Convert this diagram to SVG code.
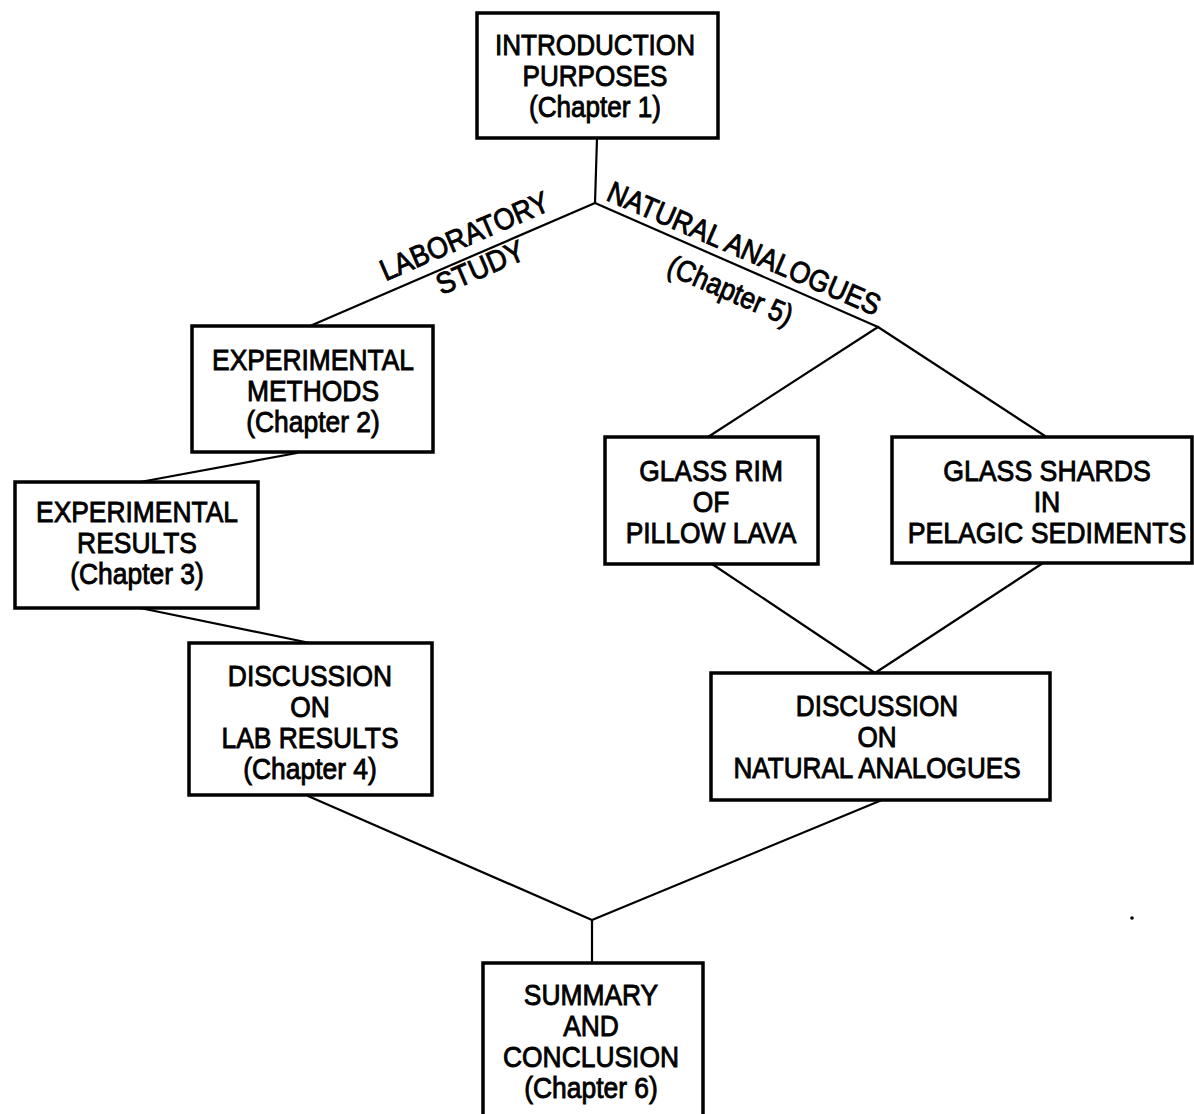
<svg xmlns="http://www.w3.org/2000/svg" width="1194" height="1114" viewBox="0 0 1194 1114">
  <style>
    .box { fill: #ffffff; stroke: #000000; stroke-width: 3.5; }
    .conn { fill: none; stroke: #000000; stroke-width: 2.2; stroke-linecap: round; stroke-linejoin: round; }
    .t { font-family: "Liberation Sans", Arial, Helvetica, sans-serif; font-size: 30px; fill: #000000; text-anchor: middle; stroke: #000000; stroke-width: 0.9; }
  </style>
  <rect width="1194" height="1114" fill="#ffffff"/>

  <g id="connectors">
    <polyline class="conn" points="597,138 595,203"/>
    <polyline class="conn" points="595,203 310,326"/>
    <polyline class="conn" points="595,203 878,327"/>
    <polyline class="conn" points="878,327 708,437"/>
    <polyline class="conn" points="878,327 1045,436"/>
    <polyline class="conn" points="297,453 140,482"/>
    <polyline class="conn" points="140,608 310,643"/>
    <polyline class="conn" points="712,564 875,673"/>
    <polyline class="conn" points="1043,563 875,673"/>
    <polyline class="conn" points="308,796 592,920"/>
    <polyline class="conn" points="882,800 592,920"/>
    <polyline class="conn" points="592,920 592,963"/>
  </g>

  <g id="label-laboratory" transform="rotate(-23.3 595 203)">
    <text class="t" x="462" y="192" textLength="181" lengthAdjust="spacingAndGlyphs">LABORATORY</text>
    <text class="t" x="464" y="227" textLength="93" lengthAdjust="spacingAndGlyphs">STUDY</text>
  </g>
  <g id="label-natural" transform="rotate(23.3 595 203)">
    <text class="t" x="750" y="196" textLength="294" lengthAdjust="spacingAndGlyphs">NATURAL ANALOGUES</text>
    <text class="t" x="754" y="240" textLength="133" lengthAdjust="spacingAndGlyphs">(Chapter 5)</text>
  </g>

  <g id="node-intro">
    <rect class="box" x="477" y="13" width="241" height="125"/>
    <g transform="translate(595 0) scale(0.87 1)">
      <text class="t" x="0" y="55">INTRODUCTION</text>
      <text class="t" x="0" y="86">PURPOSES</text>
      <text class="t" x="0" y="117">(Chapter 1)</text>
    </g>
  </g>

  <g id="node-methods">
    <rect class="box" x="192" y="326" width="241" height="126"/>
    <g transform="translate(313 0) scale(0.88 1)">
      <text class="t" x="0" y="370">EXPERIMENTAL</text>
      <text class="t" x="0" y="401">METHODS</text>
      <text class="t" x="0" y="432">(Chapter 2)</text>
    </g>
  </g>

  <g id="node-results">
    <rect class="box" x="15" y="482" width="243" height="126"/>
    <g transform="translate(137 0) scale(0.88 1)">
      <text class="t" x="0" y="522">EXPERIMENTAL</text>
      <text class="t" x="0" y="553">RESULTS</text>
      <text class="t" x="0" y="584">(Chapter 3)</text>
    </g>
  </g>

  <g id="node-lab-discussion">
    <rect class="box" x="189" y="643" width="243" height="152"/>
    <g transform="translate(310 0) scale(0.88 1)">
      <text class="t" x="0" y="686">DISCUSSION</text>
      <text class="t" x="0" y="717">ON</text>
      <text class="t" x="0" y="748">LAB RESULTS</text>
      <text class="t" x="0" y="779">(Chapter 4)</text>
    </g>
  </g>

  <g id="node-glass-rim">
    <rect class="box" x="605" y="437" width="213" height="127"/>
    <g transform="translate(711 0) scale(0.88 1)">
      <text class="t" x="0" y="481">GLASS RIM</text>
      <text class="t" x="0" y="512">OF</text>
      <text class="t" x="0" y="543">PILLOW LAVA</text>
    </g>
  </g>

  <g id="node-glass-shards">
    <rect class="box" x="892" y="437" width="300" height="126"/>
    <g transform="translate(1047 0) scale(0.89 1)">
      <text class="t" x="0" y="481">GLASS SHARDS</text>
      <text class="t" x="0" y="512">IN</text>
      <text class="t" x="0" y="543">PELAGIC SEDIMENTS</text>
    </g>
  </g>

  <g id="node-natural-discussion">
    <rect class="box" x="711" y="673" width="339" height="127"/>
    <g transform="translate(877 0) scale(0.87 1)">
      <text class="t" x="0" y="716">DISCUSSION</text>
      <text class="t" x="0" y="747">ON</text>
      <text class="t" x="0" y="778">NATURAL ANALOGUES</text>
    </g>
  </g>

  <g id="node-summary">
    <rect class="box" x="483" y="963" width="220" height="170"/>
    <g transform="translate(591 0) scale(0.88 1)">
      <text class="t" x="0" y="1005">SUMMARY</text>
      <text class="t" x="0" y="1036">AND</text>
      <text class="t" x="0" y="1067">CONCLUSION</text>
      <text class="t" x="0" y="1098">(Chapter 6)</text>
    </g>
  </g>

  <circle cx="1132" cy="918" r="1.8" fill="#000000"/>
</svg>
